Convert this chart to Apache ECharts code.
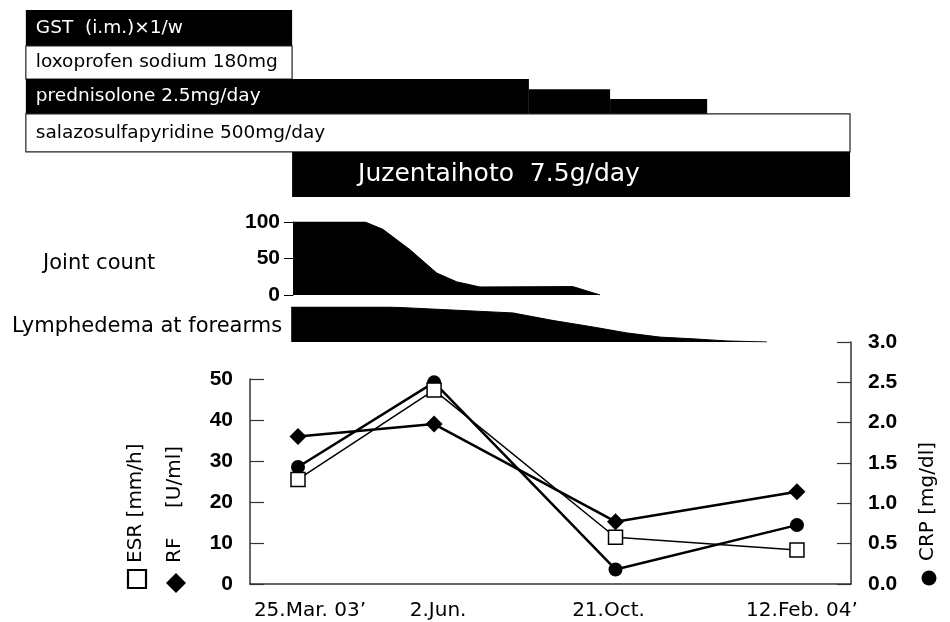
<!DOCTYPE html>
<html><head><meta charset="utf-8">
<script src="https://cdn.jsdelivr.net/npm/echarts@6/dist/echarts.min.js"></script>
<style>html,body{margin:0;padding:0;background:#fff}#c{width:950px;height:622px}</style>
</head><body><div id="c"></div>
<script>
// ================= DATA =================
// treatments (timeline unit: approx. months from first visit)
const treatments = ['GST  (i.m.)×1/w', 'loxoprofen sodium 180mg', 'prednisolone 2.5mg/day', 'salazosulfapyridine 500mg/day', 'Juzentaihoto  7.5g/day'];
const treatStart = [-6.0, -6.0, -6.0, -6.0, -0.13];
const treatEnd   = [-0.13, -0.13, 9.02, 12.17, 12.17];
// prednisolone tapering steps (end time, relative dose level)
const predStepEnd   = [5.09, 6.88, 9.02];
const predStepLevel = [1.0, 0.71, 0.43];

// joint count
const jointT     = [-0.11, 1.48, 1.87, 2.47, 3.06, 3.5, 4.01, 6.06, 6.66];
const jointCount = [100, 100, 90, 62, 30, 18, 11, 11.5, 0];

// lymphedema at forearms (relative severity)
const lymphT     = [-0.15, 1.43, 2.03, 4.74, 5.6, 6.5, 7.25, 7.98, 8.71, 9.46, 10.34];
const lymphLevel = [1, 1, 1, 0.83, 0.62, 0.43, 0.26, 0.14, 0.09, 0.03, 0];

// laboratory values at visits
const visitLabels = ['25.Mar. 03’', '2.Jun.', '21.Oct.', '12.Feb. 04’'];
const visitT = [0, 3, 7, 11];
const esr = [25.5, 47.3, 11.4, 8.3];   // mm/h
const rf  = [36, 39, 15.2, 22.5];      // U/ml
const crp = [1.45, 2.5, 0.18, 0.73];   // mg/dl

// ================= LAYOUT / STYLE =================
const PX0 = 298, PXU = 45.36;           // pixel of t=0, pixels per unit
function pxToT(px){ return (px - PX0) / PXU; }
const ROW_BANDS = [[0,0.1925],[0.1925,0.369],[0.369,0.556],[0.556,0.759],[0.759,1]];
const ROW_FILL = ['#000','#fff','#000','#fff','#000'];
const ROW_TEXT = [{size:18.5,pad:10},{size:18.5,pad:10},{size:18.5,pad:10},{size:18.5,pad:10},{size:25,pad:66}];
const BOX_FONT = '"DejaVu Sans", sans-serif';
const NUM_FONT = '"Liberation Sans", Arial, sans-serif';
const LABEL_SHIFT = [12, 4, -7, 5];    // horizontal nudge of the date labels

const treatData = [];
treatments.forEach(function(name, i){
  if (i === 2) {
    let s = treatStart[i];
    predStepEnd.forEach(function(e, k){
      treatData.push({value:[s, e, i, predStepLevel[k]], name: k === 0 ? name : ''});
      s = e;
    });
  } else {
    treatData.push({value:[treatStart[i], treatEnd[i], i, 1], name: name});
  }
});

function renderTreat(params, api){
  const row = api.value(2), lvl = api.value(3);
  const b = ROW_BANDS[row];
  const pTop = api.coord([api.value(0), b[0]]);
  const pBot = api.coord([api.value(1), b[1]]);
  const h = pBot[1] - pTop[1];
  const top = pBot[1] - h * lvl;
  const fill = ROW_FILL[row];
  const dark = fill === '#000';
  const children = [{
    type:'rect',
    shape:{x:pTop[0], y:top, width:pBot[0]-pTop[0], height:pBot[1]-top},
    style:{fill: fill, stroke: dark ? null : '#222', lineWidth: dark ? 0 : 1.2}
  }];
  const name = treatData[params.dataIndex].name;
  if (name) {
    children.push({
      type:'text', x: pTop[0] + ROW_TEXT[row].pad, y: (pTop[1] + pBot[1]) / 2,
      style:{text:name, fill: dark ? '#fff' : '#000', fontSize: ROW_TEXT[row].size,
             fontFamily: BOX_FONT, align:'left', verticalAlign:'middle'}
    });
  }
  return {type:'group', children: children};
}

const chart = echarts.init(document.getElementById('c'), null, {renderer:'canvas'});

const hiddenX = function(idx, l, r){
  return {type:'value', gridIndex: idx, min: pxToT(l), max: pxToT(r), show:false};
};

const rich = {};
LABEL_SHIFT.forEach(function(s, i){
  rich['p' + i] = {fontSize:20, fontFamily: BOX_FONT, color:'#000',
                   padding: s >= 0 ? [0, 0, 0, 2 * s] : [0, -2 * s, 0, 0]};
});

const option = {
  animation:false,
  backgroundColor:'#fff',
  grid:[
    {left:0, right:0, top:10, height:187},                 // 0 treatments
    {left:293, right:100, top:222, height:73},             // 1 joint count
    {left:0, right:0, top:307, height:35},                 // 2 lymphedema
    {left:250, right:99, top:379, bottom:38},              // 3 ESR / RF
    {left:250, right:99, top:342, bottom:38}               // 4 CRP
  ],
  xAxis:[
    hiddenX(0, 0, 950),
    hiddenX(1, 293, 850),
    hiddenX(2, 0, 950),
    {type:'value', gridIndex:3, min:pxToT(250), max:pxToT(851),
     axisLine:{show:true, onZero:false, lineStyle:{color:'#333', width:1.5}},
     axisTick:{show:false}, splitLine:{show:false},
     axisLabel:{customValues: visitT, margin:17, color:'#000', fontSize:20, fontFamily: BOX_FONT, rich: rich,
       formatter:function(v){ const i = visitT.indexOf(v); return i >= 0 ? '{p' + i + '|' + visitLabels[i] + '}' : ''; }}},
    hiddenX(4, 250, 851)
  ],
  yAxis:[
    {type:'value', gridIndex:0, min:0, max:1, inverse:true, show:false},
    {type:'value', gridIndex:1, min:0, max:100, interval:50,
     axisLine:{show:true, onZero:false, lineStyle:{color:'#000', width:1}},
     axisTick:{show:true, inside:false, length:9, lineStyle:{color:'#000'}},
     splitLine:{show:false},
     axisLabel:{margin:13, color:'#000', fontSize:21, fontWeight:'bold', fontFamily: NUM_FONT}},
    {type:'value', gridIndex:2, min:0, max:1, show:false},
    {type:'value', gridIndex:3, min:0, max:50, interval:10, position:'left',
     axisLine:{show:true, onZero:false, lineStyle:{color:'#333', width:1.5}},
     axisTick:{show:true, inside:true, length:14, lineStyle:{color:'#333', width:1.2}},
     splitLine:{show:false},
     axisLabel:{margin:17, color:'#000', fontSize:21, fontWeight:'bold', fontFamily: NUM_FONT}},
    {type:'value', gridIndex:4, min:0, max:3, interval:0.5, position:'right',
     axisLine:{show:true, onZero:false, lineStyle:{color:'#333', width:1.5}},
     axisTick:{show:true, inside:true, length:14, lineStyle:{color:'#333', width:1.2}},
     splitLine:{show:false},
     axisLabel:{margin:17, color:'#000', fontSize:21, fontWeight:'bold', fontFamily: NUM_FONT,
       formatter:function(v){ return v.toFixed(1); }}}
  ],
  series:[
    {type:'custom', name:'treatments', xAxisIndex:0, yAxisIndex:0, renderItem: renderTreat,
     data: treatData, clip:false},
    {type:'line', name:'Joint count', xAxisIndex:1, yAxisIndex:1, symbol:'none',
     lineStyle:{color:'#000', width:1}, areaStyle:{color:'#000', opacity:1},
     data: jointT.map(function(t,i){ return [t, jointCount[i]]; })},
    {type:'line', name:'Lymphedema at forearms', xAxisIndex:2, yAxisIndex:2, symbol:'none',
     lineStyle:{color:'#000', width:1}, areaStyle:{color:'#000', opacity:1},
     data: lymphT.map(function(t,i){ return [t, lymphLevel[i]]; })},
    {type:'line', name:'CRP', xAxisIndex:4, yAxisIndex:4, z:2,
     symbol:'circle', symbolSize:14, itemStyle:{color:'#000'},
     lineStyle:{color:'#000', width:2.5},
     data: visitT.map(function(t,i){ return [t, crp[i]]; })},
    {type:'line', name:'ESR', xAxisIndex:3, yAxisIndex:3, z:3,
     symbol:'rect', symbolSize:14, itemStyle:{color:'#fff', borderColor:'#000', borderWidth:1.5},
     lineStyle:{color:'#000', width:1.5},
     data: visitT.map(function(t,i){ return [t, esr[i]]; })},
    {type:'line', name:'RF', xAxisIndex:3, yAxisIndex:3, z:4,
     symbol:'diamond', symbolSize:17, itemStyle:{color:'#000'},
     lineStyle:{color:'#000', width:2.5},
     data: visitT.map(function(t,i){ return [t, rf[i]]; })}
  ],
  graphic:[
    {type:'text', x:43, y:264, style:{text:'Joint count', fontSize:21, fontFamily:BOX_FONT, fill:'#000', align:'left', verticalAlign:'middle'}},
    {type:'text', x:12, y:327, style:{text:'Lymphedema at forearms', fontSize:21, fontFamily:BOX_FONT, fill:'#000', align:'left', verticalAlign:'middle'}},
    {type:'text', x:136, y:563, rotation:Math.PI/2, style:{text:'ESR [mm/h]', fontSize:20, fontFamily:BOX_FONT, fill:'#000', align:'left', verticalAlign:'middle'}},
    {type:'text', x:175, y:563, rotation:Math.PI/2, style:{text:'RF', fontSize:20, fontFamily:BOX_FONT, fill:'#000', align:'left', verticalAlign:'middle'}},
    {type:'text', x:175, y:508, rotation:Math.PI/2, style:{text:'[U/ml]', fontSize:20, fontFamily:BOX_FONT, fill:'#000', align:'left', verticalAlign:'middle'}},
    {type:'text', x:928, y:561, rotation:Math.PI/2, style:{text:'CRP [mg/dl]', fontSize:20, fontFamily:BOX_FONT, fill:'#000', align:'left', verticalAlign:'middle'}},
    {type:'rect', shape:{x:128, y:570, width:18, height:18}, style:{fill:'#fff', stroke:'#000', lineWidth:2.2}},
    {type:'polygon', shape:{points:[[176,573],[186,583],[176,593],[166,583]]}, style:{fill:'#000'}},
    {type:'circle', shape:{cx:929, cy:578, r:7.5}, style:{fill:'#000'}}
  ]
};
chart.setOption(option);
</script>
</body></html>
